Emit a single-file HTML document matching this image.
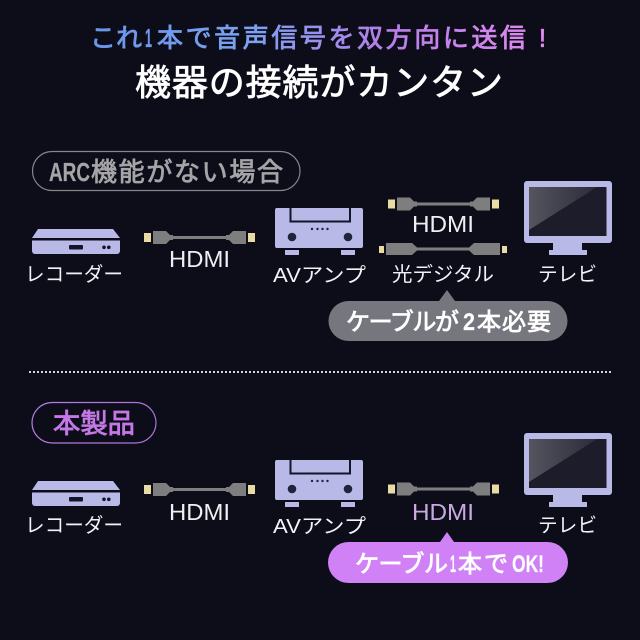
<!DOCTYPE html>
<html lang="ja"><head><meta charset="utf-8"><style>
html,body{margin:0;padding:0;background:#0d0d1a}
svg{display:block}
text{font-family:"Liberation Sans","Noto Sans CJK JP",sans-serif}
.l{fill:#f2f2f6;font-size:20px}
.h{fill:#eeeef3;font-size:23.5px}
.m text,text.m{font-family:"Noto Sans CJK JP","Liberation Sans",sans-serif;font-weight:400;stroke-width:.8px}
.m text.n{font-family:"Liberation Sans Narrow","Liberation Sans",sans-serif;font-weight:700;stroke-width:.2px}
</style></head><body>
<svg width="640" height="640" viewBox="0 0 640 640" xmlns="http://www.w3.org/2000/svg">
<defs>
<linearGradient id="tg" gradientUnits="userSpaceOnUse" x1="90" y1="0" x2="546" y2="0"><stop offset="0" stop-color="#6a95ea"/><stop offset=".35" stop-color="#7aa2f0"/><stop offset=".65" stop-color="#b67ee8"/><stop offset="1" stop-color="#e08af0"/></linearGradient>
<linearGradient id="sc" x1="0" y1="0" x2="1" y2="0"><stop offset="0" stop-color="#55555f"/><stop offset="1" stop-color="#2b2b3a"/></linearGradient>
<linearGradient id="pb" x1="0" y1="0" x2="1" y2="0"><stop offset="0" stop-color="#b77ee6"/><stop offset="1" stop-color="#a673d8"/></linearGradient>
<g id="rec"><path d="M38 229H113L120 238H32Z" fill="#b9b9e8"/><path d="M32 240.500H120V251a3 3 0 0 1-3 3H35a3 3 0 0 1-3-3Z" fill="#b9b9e8"/><rect x="69" y="245" width="14" height="4.500" rx="1" fill="#14142a"/><circle cx="104" cy="247.300" r="1.800" fill="#14142a"/><circle cx="108.800" cy="247.300" r="1.800" fill="#14142a"/></g>
<g id="amp"><path d="M275 210a2 2 0 0 1 2-2H361a2 2 0 0 1 2 2V246a2 2 0 0 1-2 2H277a2 2 0 0 1-2-2Z" fill="#b9b9e8"/><path d="M290.500 208V221.500H350V208" fill="none" stroke="#14142a" stroke-width="2"/><g fill="#22223a"><circle cx="312" cy="229" r="1.200"/><circle cx="317.500" cy="229" r="1.200"/><circle cx="322.500" cy="229" r="1.200"/><circle cx="327.500" cy="229" r="1.200"/><circle cx="292" cy="237" r="4.300"/><circle cx="348" cy="237" r="4.300"/></g><rect x="285" y="250" width="14" height="5" fill="#b9b9e8"/><rect x="341" y="250" width="14" height="5" fill="#b9b9e8"/></g>
<g id="tv"><rect x="524" y="181" width="88" height="62" rx="3" fill="#b9b9e8"/><rect x="529" y="187" width="77.500" height="49" fill="#1c1c2a"/><path d="M529 187H597L529 230Z" fill="url(#sc)"/><path d="M553 243H582V250H587V255H549V250H553Z" fill="#b9b9e8"/></g>
<g id="cab"><rect x="144" y="233" width="7" height="9" fill="#e8dca4"/><rect x="248" y="233" width="7" height="9" fill="#e8dca4"/><path d="M153 231H166L170 235H173V240H170L166 244H153Z" fill="#7e7e7e"/><path d="M246 231H233L229 235H226V240H229L233 244H246Z" fill="#7e7e7e"/><rect x="172" y="236" width="56" height="3" fill="#7e7e7e"/></g>
</defs>
<rect width="640" height="640" fill="#0d0d1a"/>

<g class="m" fill="url(#tg)" stroke="url(#tg)" font-size="26">
<text x="90" y="47" textLength="52" lengthAdjust="spacing">これ</text>
<text class="n" x="145" y="47" textLength="7" lengthAdjust="spacingAndGlyphs">1</text>
<text x="157" y="47" textLength="369" lengthAdjust="spacing">本で音声信号を双方向に送信</text>
<text class="n" x="539" y="47" textLength="7" lengthAdjust="spacingAndGlyphs">!</text>
</g>
<text class="m" x="135" y="95" font-size="36" fill="#fff" stroke="#fff" textLength="368" lengthAdjust="spacing">機器の接続がカンタン</text>

<rect x="32.500" y="151.500" width="267.500" height="39" rx="19.500" fill="none" stroke="#85858a" stroke-width="1.200"/>
<g class="m" fill="#a5a5a8" stroke="#a5a5a8" font-size="26">
<text class="n" x="49" y="181" textLength="41" lengthAdjust="spacingAndGlyphs">ARC</text>
<text x="91" y="181" textLength="192" lengthAdjust="spacing">機能がない場合</text>
</g>

<use href="#rec"/><use href="#cab"/><use href="#amp"/><use href="#tv"/>
<use href="#cab" transform="translate(244 -33.500)"/>
<g fill="#7e7e7e"><rect x="379" y="246" width="5" height="7" fill="#e8dca4"/><rect x="502" y="246" width="5" height="7" fill="#e8dca4"/><path d="M386 243H412L417 247.500V250.500L412 255H386Z"/><path d="M500 243H474L469 247.500V250.500L474 255H500Z"/><rect x="416" y="247.500" width="54" height="3"/></g>

<text class="l" x="25" y="281" textLength="98" lengthAdjust="spacingAndGlyphs">レコーダー</text>
<text class="h" x="169" y="267" textLength="61" lengthAdjust="spacingAndGlyphs">HDMI</text>
<text class="l" x="273" y="282" textLength="93" lengthAdjust="spacingAndGlyphs">AVアンプ</text>
<text class="h" x="412" y="232" textLength="62" lengthAdjust="spacingAndGlyphs">HDMI</text>
<text class="l" x="392" y="281" textLength="102" lengthAdjust="spacingAndGlyphs">光デジタル</text>
<text class="l" x="538" y="281" textLength="59" lengthAdjust="spacingAndGlyphs">テレビ</text>

<path d="M348.500 301H439L447 290L455 301H547.500a20 20 0 0 1 0 40H348.500a20 20 0 0 1 0-40Z" fill="#76767e"/>
<g class="m" fill="#fff" stroke="#fff" font-size="24">
<text x="346" y="330" textLength="113" lengthAdjust="spacing">ケーブルが</text>
<text class="n" x="463" y="330" textLength="12" lengthAdjust="spacingAndGlyphs">2</text>
<text x="477" y="330" textLength="74" lengthAdjust="spacing">本必要</text>
</g>

<line x1="29" y1="372" x2="612" y2="372" stroke="#d5d5dc" stroke-width="2" stroke-dasharray="2 2"/>

<rect x="32" y="402.500" width="124" height="40.500" rx="20.250" fill="none" stroke="url(#pb)" stroke-width="1.200"/>
<text class="m" x="53" y="433" font-size="27" fill="#c478e6" stroke="#c478e6" textLength="82" lengthAdjust="spacingAndGlyphs">本製品</text>

<use href="#rec" y="252"/><use href="#cab" y="252"/><use href="#amp" y="252"/><use href="#tv" y="252"/>
<use href="#cab" transform="translate(244 251.500)"/>

<text class="l" x="25" y="532" textLength="98" lengthAdjust="spacingAndGlyphs">レコーダー</text>
<text class="h" x="169" y="520" textLength="61" lengthAdjust="spacingAndGlyphs">HDMI</text>
<text class="l" x="273" y="533" textLength="93" lengthAdjust="spacingAndGlyphs">AVアンプ</text>
<text class="h" x="412" y="520" textLength="62" lengthAdjust="spacingAndGlyphs" style="fill:#c9a9e2">HDMI</text>
<text class="l" x="538" y="532" textLength="59" lengthAdjust="spacingAndGlyphs">テレビ</text>

<path d="M348.500 542H440L447 532L454 542H547.500a20.500 20.500 0 0 1 0 41H348.500a20.500 20.500 0 0 1 0-41Z" fill="#d081f5"/>
<g class="m" fill="#fff" stroke="#fff" font-size="24">
<text x="355" y="572" textLength="93" lengthAdjust="spacing">ケーブル</text>
<text class="n" x="450" y="572" textLength="6" lengthAdjust="spacingAndGlyphs">1</text>
<text x="458" y="572" textLength="50" lengthAdjust="spacing">本で</text>
<text class="n" x="512" y="572" textLength="32" lengthAdjust="spacingAndGlyphs">OK!</text>
</g>
</svg>
</body></html>
